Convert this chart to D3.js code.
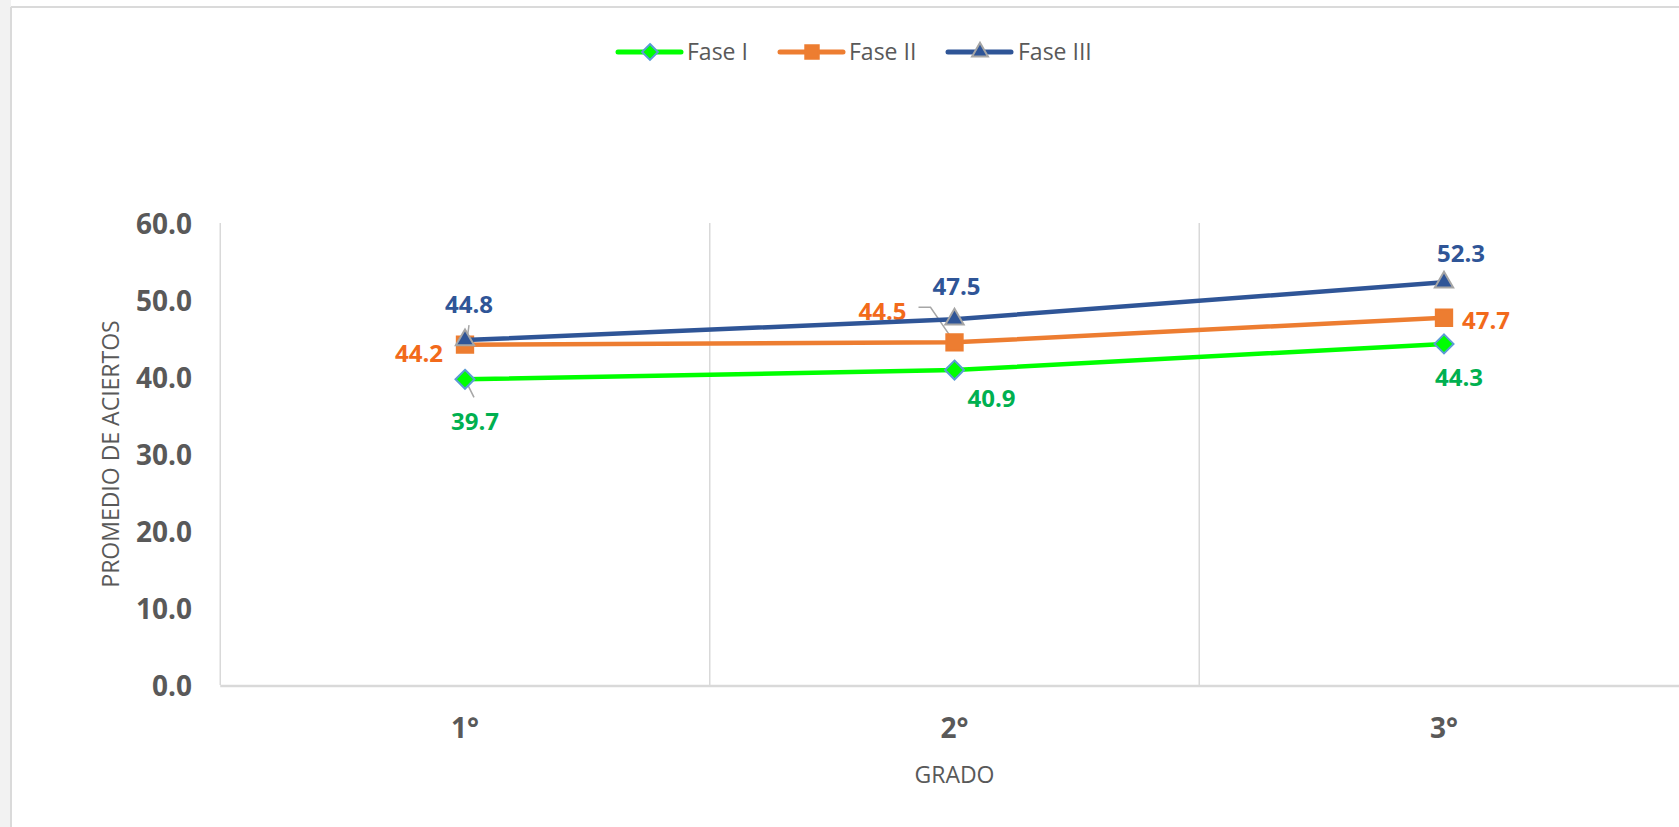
<!DOCTYPE html>
<html>
<head>
<meta charset="utf-8">
<script src="https://cdn.jsdelivr.net/npm/d3@7"></script>
<style>
  html, body { margin: 0; padding: 0; background: #fff; overflow: hidden; }
  svg { display: block; font-family: "Open Sans", sans-serif; }
</style>
</head>
<body>
<svg id="chart"></svg>
<script>
var width = 1679, height = 827

// data
var grades = ["1°", "2°", "3°"]
var seriesNames = ["Fase I", "Fase II", "Fase III"]
var faseI = [39.7, 40.9, 44.3]
var faseII = [44.2, 44.5, 47.7]
var faseIII = [44.8, 47.5, 52.3]
var yTicks = [0, 10, 20, 30, 40, 50, 60]

// label placement, offsets from the point (dx, dy)
var labelOffsets = [
    [[10, 42], [37, 28], [15, 33]],
    [[-46, 9], [-72, -31], [42, 3]],
    [[4, -36], [2, -33], [17, -29]]
]

var styles = [
    {line: "#00ff00", fill: "#00ff00", stroke: "#5b9bd5", label: "#00b050", shape: d3.symbolDiamond2, size: 230, lsize: 160},
    {line: "#ed7d31", fill: "#ed7d31", stroke: "#ed7d31", label: "#f26a1b", shape: d3.symbolSquare2, size: 340, lsize: 230},
    {line: "#2f5597", fill: "#2f5597", stroke: "#a5a5a5", label: "#2f5597", shape: d3.symbolTriangle2, size: 240, lsize: 180}
]

var series = [faseI, faseII, faseIII].map(function(vals, i) {
    return {name: seriesNames[i], values: vals, style: styles[i], offsets: labelOffsets[i]}
})

var svg = d3.select("#chart")
    .attr("width", width)
    .attr("height", height)

// screenshot frame
svg.append("rect").attr("x", 0).attr("y", 0).attr("width", 11).attr("height", height).attr("fill", "#f2f2f2")
svg.append("line").attr("x1", 11).attr("x2", width).attr("y1", 7).attr("y2", 7)
    .attr("stroke", "#dadada").attr("stroke-width", 2)
svg.append("line").attr("x1", 11).attr("x2", 11).attr("y1", 7).attr("y2", height)
    .attr("stroke", "#dadada").attr("stroke-width", 2)

var x = d3.scaleBand()
    .domain(grades)
    .range([220.25, 1688.75])
    .padding(0)

var y = d3.scaleLinear()
    .domain([0, 60])
    .range([685, 223])

var grey = "#595959"

// vertical gridlines at category boundaries
var bounds = grades.map(function(g) { return x(g) })
svg.append("g").selectAll("line")
    .data(bounds)
    .enter()
    .append("line")
        .attr("x1", d => d).attr("x2", d => d)
        .attr("y1", y(60)).attr("y2", y(0))
        .attr("stroke", "#d9d9d9")
        .attr("stroke-width", 1.5)

// x axis line
svg.append("line")
    .attr("x1", x.range()[0]).attr("x2", width)
    .attr("y1", y(0) + 1).attr("y2", y(0) + 1)
    .attr("stroke", "#d9d9d9")
    .attr("stroke-width", 2.5)

// y axis tick labels
var yAxis = svg.append("g")
    .attr("transform", "translate(192,0)")
    .call(d3.axisLeft(y).tickValues(yTicks).tickFormat(d3.format(".1f")).tickSize(0).tickPadding(0))
yAxis.select(".domain").remove()
yAxis.selectAll("text")
    .attr("fill", grey)
    .attr("font-size", 28)
    .attr("font-weight", "bold")
    .attr("font-family", "Open Sans")
    .attr("dy", "0.36em")

// x axis tick labels
var xAxis = svg.append("g")
    .attr("transform", "translate(0,728)")
    .call(d3.axisBottom(x).tickSize(0).tickPadding(0))
xAxis.select(".domain").remove()
xAxis.selectAll("text")
    .attr("fill", grey)
    .attr("font-size", 28)
    .attr("font-weight", "bold")
    .attr("font-family", "Open Sans")
    .attr("dy", "0.36em")

// axis titles
svg.append("text")
    .attr("transform", "translate(111,454) rotate(-90)")
    .attr("text-anchor", "middle")
    .attr("dy", "0.36em")
    .attr("font-size", 23)
    .attr("fill", grey)
    .text("PROMEDIO DE ACIERTOS")

svg.append("text")
    .attr("x", x("2°") + x.bandwidth() / 2)
    .attr("y", 775)
    .attr("text-anchor", "middle")
    .attr("dy", "0.36em")
    .attr("font-size", 23)
    .attr("fill", grey)
    .text("GRADO")

var cx = function(i) { return x(grades[i]) + x.bandwidth() / 2 }

var line = d3.line()
    .x((d, i) => cx(i))
    .y(d => y(d))

// leader lines for displaced labels
var leaders = [
    [[cx(0), y(faseI[0])], [cx(0) + 9, y(faseI[0]) + 18]],
    [[cx(0) + 2, y(faseIII[0])], [cx(0) + 4, y(faseIII[0]) - 15]],
    [[cx(1), y(faseII[1])], [cx(1) - 24, y(faseII[1]) - 35], [cx(1) - 36, y(faseII[1]) - 35]]
]
svg.append("g").selectAll("path")
    .data(leaders)
    .enter()
    .append("path")
        .attr("d", d3.line())
        .attr("fill", "none")
        .attr("stroke", "#a6a6a6")
        .attr("stroke-width", 1.5)

var sg = svg.append("g").selectAll("g")
    .data(series)
    .enter()
    .append("g")

sg.append("path")
    .attr("d", d => line(d.values))
    .attr("fill", "none")
    .attr("stroke", d => d.style.line)
    .attr("stroke-width", 4.5)

sg.each(function(s) {
    var g = d3.select(this)
    g.selectAll(".mark")
        .data(s.values)
        .enter()
        .append("path")
            .attr("class", "mark")
            .attr("transform", (d, i) => "translate(" + cx(i) + "," + y(d) + ")")
            .attr("d", d3.symbol().type(s.style.shape).size(s.style.size))
            .attr("fill", s.style.fill)
            .attr("stroke", s.style.stroke)
            .attr("stroke-width", 2)
    g.selectAll(".lbl")
        .data(s.values)
        .enter()
        .append("text")
            .attr("class", "lbl")
            .attr("x", (d, i) => cx(i) + s.offsets[i][0])
            .attr("y", (d, i) => y(d) + s.offsets[i][1])
            .attr("text-anchor", "middle")
            .attr("dy", "0.36em")
            .attr("font-size", 24)
            .attr("font-weight", "bold")
            .attr("fill", s.style.label)
            .text(d => d3.format(".1f")(d))
})

// legend
var legendItems = [
    {x: 618, tx: 687},
    {x: 780, tx: 849},
    {x: 948, tx: 1018}
]
var lg = svg.append("g").selectAll("g")
    .data(series)
    .enter()
    .append("g")
        .attr("transform", (d, i) => "translate(" + legendItems[i].x + ",52)")
lg.append("line")
    .attr("x1", 0).attr("x2", 63)
    .attr("stroke", d => d.style.line)
    .attr("stroke-width", 5)
    .attr("stroke-linecap", "round")
lg.append("path")
    .attr("transform", "translate(32,0)")
    .attr("d", d => d3.symbol().type(d.style.shape).size(d.style.lsize)())
    .attr("fill", d => d.style.fill)
    .attr("stroke", d => d.style.stroke)
    .attr("stroke-width", 2)
lg.append("text")
    .attr("x", (d, i) => legendItems[i].tx - legendItems[i].x)
    .attr("dy", "0.36em")
    .attr("font-size", 23)
    .attr("fill", grey)
    .text(d => d.name)
</script>
</body>
</html>
